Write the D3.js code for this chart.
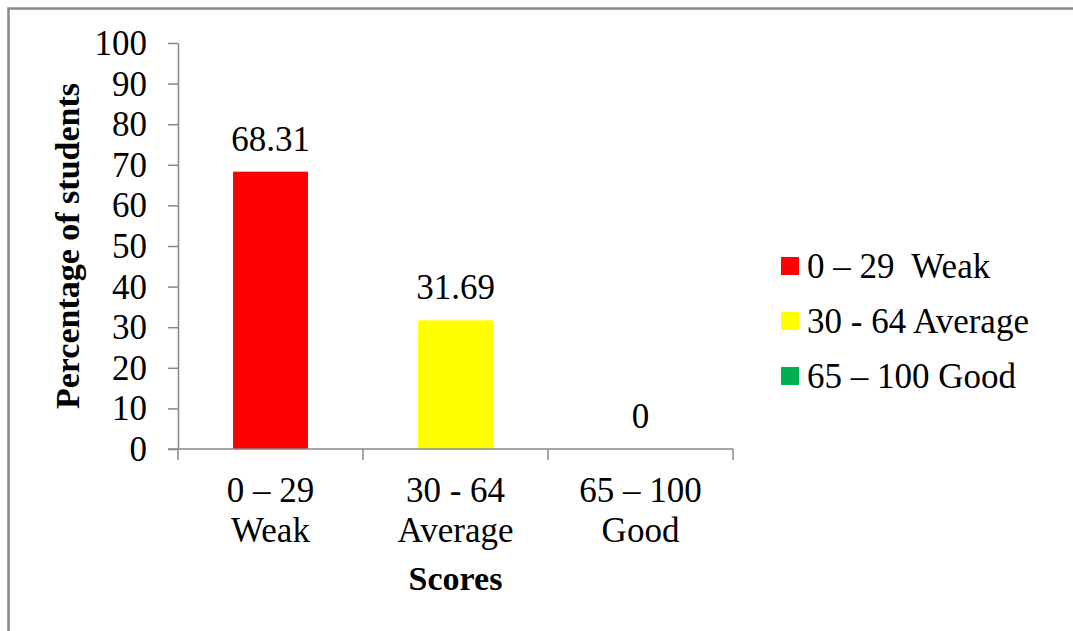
<!DOCTYPE html>
<html>
<head>
<meta charset="utf-8">
<script src="https://cdn.jsdelivr.net/npm/d3@7"></script>
<style>
  html, body { margin: 0; padding: 0; background: #fff; }
  svg { display: block; }
  text { font-family: "Liberation Serif", "Times New Roman", serif; fill: #000; }
</style>
</head>
<body>
<svg id="chart" width="1073" height="631"></svg>
<script>
// Score bands and share of students in each
const categories = ["0 – 29|Weak", "30 - 64|Average", "65 – 100|Good"];
const legendLabels = ["0 – 29  Weak", "30 - 64 Average", "65 – 100 Good"];
const values = [68.31, 31.69, 0];
const colors = ["#ff0000", "#ffff00", "#00b050"];
const yTicks = [0, 10, 20, 30, 40, 50, 60, 70, 80, 90, 100];

const svg = d3.select("#chart");
const axisColor = "#878787";
const fontSize = "35px";

// Outer frame
svg.append("rect")
  .attr("x", 8.5).attr("y", 8.5)
  .attr("width", 1200).attr("height", 800)
  .attr("fill", "none")
  .attr("stroke", axisColor)
  .attr("stroke-width", 2.5);

const plot = { left: 178, right: 733, top: 43, bottom: 449 };

const x = d3.scaleBand()
  .domain(categories)
  .range([plot.left, plot.right])
  .paddingInner(0.595)
  .paddingOuter(0.2975);

const y = d3.scaleLinear()
  .domain([0, 100])
  .range([plot.bottom, plot.top]);

// Y axis
const yAxis = svg.append("g")
  .attr("transform", `translate(${plot.left},0)`)
  .call(d3.axisLeft(y).tickValues(yTicks).tickSize(10).tickPadding(21).tickSizeOuter(0));
yAxis.select(".domain").attr("stroke", axisColor).attr("stroke-width", 1.5);
yAxis.selectAll(".tick line").attr("stroke", axisColor).attr("stroke-width", 1.5);
yAxis.selectAll(".tick text")
  .style("font-family", "Liberation Serif, serif")
  .style("font-size", fontSize)
  .attr("dy", "0.33em");

// Bars
svg.append("g").selectAll("rect")
  .data(values)
  .join("rect")
  .attr("x", (d, i) => x(categories[i]))
  .attr("y", d => y(d))
  .attr("width", x.bandwidth())
  .attr("height", d => y(0) - y(d))
  .attr("fill", (d, i) => colors[i]);

// X axis: ticks sit on category boundaries
const xAxis = svg.append("g");
xAxis.append("line")
  .attr("x1", plot.left - 10).attr("x2", plot.right)
  .attr("y1", plot.bottom).attr("y2", plot.bottom)
  .attr("stroke", axisColor).attr("stroke-width", 1.5);
xAxis.selectAll("line.tick")
  .data(d3.range(categories.length + 1))
  .join("line")
  .attr("class", "tick")
  .attr("x1", i => plot.left + i * x.step())
  .attr("x2", i => plot.left + i * x.step())
  .attr("y1", plot.bottom).attr("y2", plot.bottom + 11)
  .attr("stroke", axisColor).attr("stroke-width", 1.5);

// Category labels (two lines)
const catLabels = svg.append("g").selectAll("text")
  .data(categories)
  .join("text")
  .attr("x", d => x(d) + x.bandwidth() / 2)
  .attr("y", 502)
  .attr("text-anchor", "middle")
  .style("font-size", fontSize);
catLabels.each(function(d) {
  const parts = d.split("|");
  const t = d3.select(this);
  parts.forEach((p, k) => {
    t.append("tspan")
      .attr("x", x(d) + x.bandwidth() / 2)
      .attr("dy", k === 0 ? 0 : 40)
      .text(p);
  });
});

// Value labels
svg.append("g").selectAll("text")
  .data(values)
  .join("text")
  .attr("x", (d, i) => x(categories[i]) + x.bandwidth() / 2)
  .attr("y", d => y(d) - 21)
  .attr("text-anchor", "middle")
  .style("font-size", fontSize)
  .text(d => d === 0 ? "0" : d.toFixed(2));

// Axis titles
svg.append("text")
  .attr("x", (plot.left + plot.right) / 2)
  .attr("y", 590)
  .attr("text-anchor", "middle")
  .style("font-size", "34px")
  .style("font-weight", "bold")
  .text("Scores");

svg.append("text")
  .attr("transform", `translate(79,${(plot.top + plot.bottom) / 2}) rotate(-90)`)
  .attr("text-anchor", "middle")
  .style("font-size", "34px")
  .style("font-weight", "bold")
  .text("Percentage of students");

// Legend
const legend = svg.append("g").selectAll("g")
  .data(legendLabels)
  .join("g")
  .attr("transform", (d, i) => `translate(781,${257 + i * 55})`);
legend.append("rect")
  .attr("width", 18).attr("height", 18)
  .attr("fill", (d, i) => colors[i]);
legend.append("text")
  .attr("x", 26).attr("y", 21)
  .style("font-size", fontSize)
  .style("white-space", "pre")
  .attr("xml:space", "preserve")
  .text(d => d);
</script>
</body>
</html>
